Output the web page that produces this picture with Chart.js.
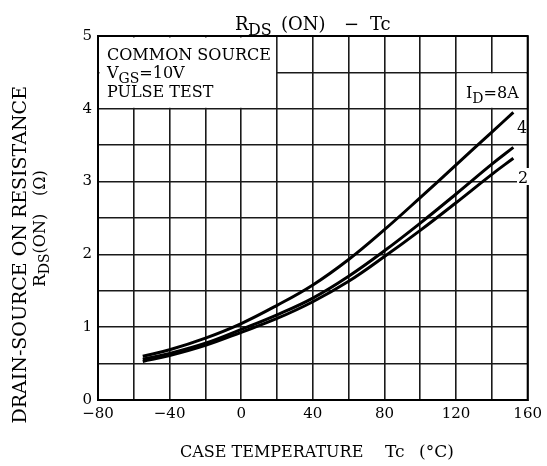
<!DOCTYPE html>
<html>
<head>
<meta charset="utf-8">
<script src="https://cdn.jsdelivr.net/npm/chart.js@4.4.1/dist/chart.umd.min.js"></script>
<style>
  html, body { margin: 0; padding: 0; background: #fff; }
  #wrap { width: 547px; height: 466px; position: relative; }
</style>
</head>
<body>
<div id="wrap"><canvas id="c" width="547" height="466"></canvas></div>
<script>
// ---- data ----
const temps = [-55, -40, -20, 0, 20, 40, 60, 80, 100, 120, 140, 152];
const r8A   = [0.60, 0.69, 0.85, 1.05, 1.30, 1.58, 1.93, 2.34, 2.78, 3.23, 3.68, 3.95];
const r4A   = [0.56, 0.64, 0.78, 0.97, 1.17, 1.40, 1.70, 2.05, 2.43, 2.83, 3.24, 3.47];
const r2A   = [0.53, 0.61, 0.75, 0.93, 1.12, 1.35, 1.63, 1.97, 2.33, 2.71, 3.10, 3.32];
const xTickLabels = [-80, -40, 0, 40, 80, 120, 160];
const yTickLabels = [0, 1, 2, 3, 4, 5];

const SERIF = '"DejaVu Serif", "Liberation Serif", serif';
const font = (s) => s + 'px ' + SERIF;

function pts(ys) { return temps.map((t, i) => ({ x: t, y: ys[i] })); }

function drawRuns(ctx, runs, x, y) {
  let cx = x;
  for (const r of runs) {
    ctx.font = font(r.s);
    ctx.fillText(r.t, cx, y + (r.dy || 0));
    cx += ctx.measureText(r.t).width;
  }
  return cx;
}

const deco = {
  id: 'deco',
  beforeDatasetsDraw(chart) {
    const ctx = chart.ctx, xs = chart.scales.x, ys = chart.scales.y;
    ctx.save();
    ctx.fillStyle = '#fff';
    // legend box (top-left)
    let l = xs.getPixelForValue(-80) + 1.5, r = xs.getPixelForValue(20) - 1;
    let t = ys.getPixelForValue(5) + 1.5, b = ys.getPixelForValue(4) - 1;
    ctx.fillRect(l, t, r - l, b - t);
    // I_D label box
    l = xs.getPixelForValue(120) + 1; r = xs.getPixelForValue(160) - 1.5;
    t = ys.getPixelForValue(4.5) + 1; b = ys.getPixelForValue(4) - 1;
    ctx.fillRect(l, t, r - l, b - t);
    ctx.restore();
  },
  afterDraw(chart) {
    const ctx = chart.ctx, a = chart.chartArea;
    ctx.save();
    // frame
    ctx.strokeStyle = '#000';
    ctx.lineWidth = 2;
    ctx.strokeRect(a.left, a.top, a.right - a.left, a.bottom - a.top);

    ctx.fillStyle = '#000';
    ctx.textBaseline = 'alphabetic';
    ctx.textAlign = 'left';

    // title  R_DS(ON) − Tc
    ctx.font = font(18); ctx.fillText('R', 235, 30);
    ctx.font = font(16); ctx.fillText('DS', 248, 35);
    ctx.font = font(18); ctx.fillText('(ON)', 281, 30);
    ctx.font = font(18); ctx.fillText('\u2212', 344, 30);
    ctx.font = font(18); ctx.fillText('Tc', 370, 30);

    // text box
    drawRuns(ctx, [{t:'COMMON SOURCE', s:16}], 107, 60);
    drawRuns(ctx, [{t:'V', s:16}, {t:'GS', s:14, dy:5}, {t:'=10V', s:16}], 107, 78);
    drawRuns(ctx, [{t:'PULSE TEST', s:16}], 107, 97);

    // curve labels
    drawRuns(ctx, [{t:'I', s:16}, {t:'D', s:14, dy:5}, {t:'=8A', s:16}], 466, 98);
    ctx.font = font(16);
    ctx.fillText('4', 517, 133);
    ctx.fillStyle = '#fff';
    ctx.fillRect(517, 168, 12, 17);
    ctx.fillStyle = '#000';
    ctx.fillText('2', 518, 183);

    // x axis title
    ctx.font = font(16);
    ctx.fillText('CASE TEMPERATURE', 180, 457);
    ctx.font = font(17);
    ctx.fillText('Tc', 385, 457);
    ctx.fillText('(\u00B0C)', 419, 457);

    // y axis title
    ctx.save();
    ctx.translate(26, 0);
    ctx.rotate(-Math.PI / 2);
    ctx.font = font(19);
    const l1 = 'DRAIN-SOURCE ON RESISTANCE';
    const w1 = ctx.measureText(l1).width;
    ctx.fillText(l1, -(86 + w1), 0);
    ctx.restore();

    ctx.save();
    ctx.translate(45, 0);
    ctx.rotate(-Math.PI / 2);
    drawRuns(ctx, [{t:'R', s:17}, {t:'DS', s:14, dy:4}, {t:'(ON)', s:16}], -287, 0);
    drawRuns(ctx, [{t:'(\u03A9)', s:16}], -196, 0);
    ctx.restore();

    ctx.restore();
  }
};

const lineStyle = { borderColor: '#000', borderWidth: 3, pointRadius: 0, fill: false,
                    tension: 0.4, borderCapStyle: 'butt', showLine: true };

new Chart(document.getElementById('c'), {
  type: 'scatter',
  data: {
    datasets: [
      Object.assign({ label: 'ID=8A', data: pts(r8A) }, lineStyle),
      Object.assign({ label: 'ID=4A', data: pts(r4A) }, lineStyle),
      Object.assign({ label: 'ID=2A', data: pts(r2A) }, lineStyle)
    ]
  },
  options: {
    responsive: false,
    animation: false,
    events: [],
    layout: { padding: { left: 0, top: 36, right: 16, bottom: 0 } },
    plugins: { legend: { display: false }, tooltip: { enabled: false }, title: { display: false } },
    scales: {
      x: {
        type: 'linear', min: -80, max: 160,
        afterFit(s) { s.height = 66; },
        grid: { color: '#1a1a1a', lineWidth: 1.6, drawTicks: false },
        border: { color: '#000', width: 2 },
        ticks: {
          stepSize: 20, autoSkip: false, maxRotation: 0, padding: 5, color: '#000',
          font: { family: SERIF, size: 15 },
          callback: (v) => xTickLabels.includes(v) ? (v < 0 ? '\u2212' + Math.abs(v) : String(v)) : ''
        }
      },
      y: {
        type: 'linear', min: 0, max: 5,
        afterFit(s) { s.width = 98; },
        grid: { color: '#1a1a1a', lineWidth: 1.6, drawTicks: false },
        border: { color: '#000', width: 2 },
        ticks: {
          stepSize: 0.5, autoSkip: false, padding: 6, color: '#000',
          font: { family: SERIF, size: 15 },
          callback: (v) => yTickLabels.includes(v) ? String(v) : ''
        }
      }
    }
  },
  plugins: [deco]
});
</script>
</body>
</html>
